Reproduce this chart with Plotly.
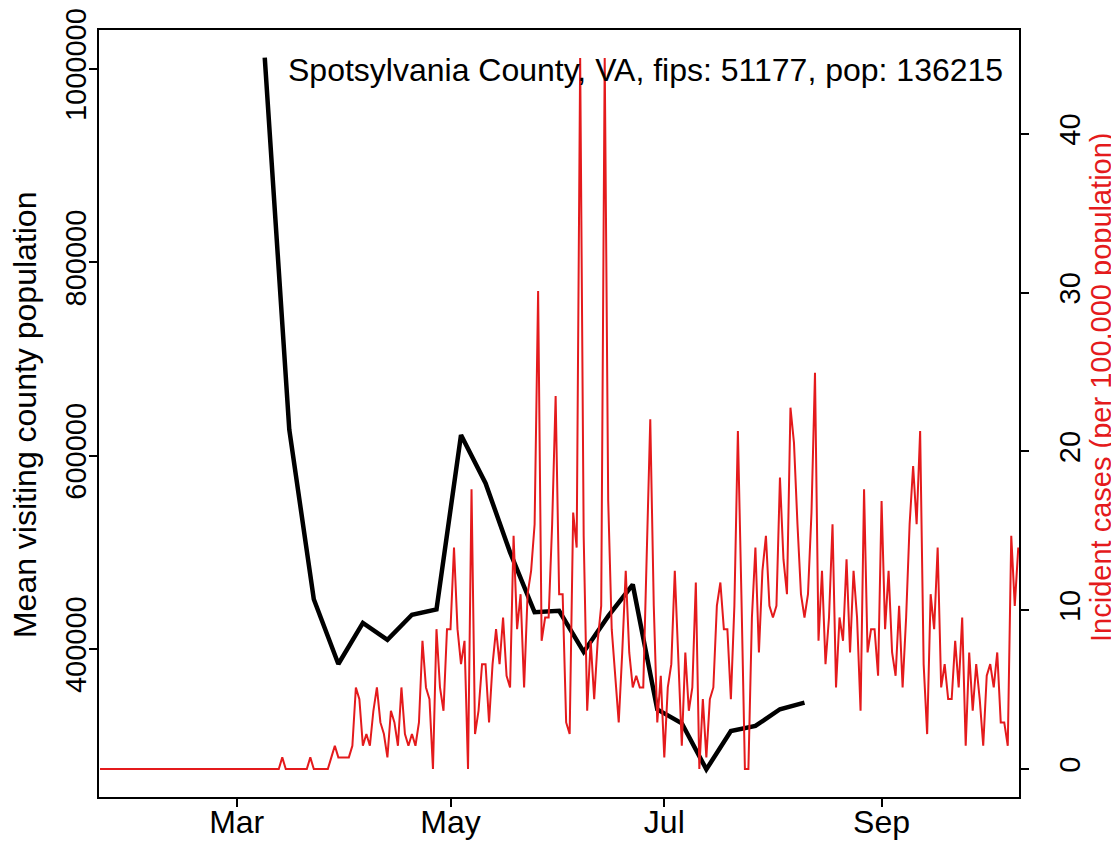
import pandas as pd
import plotly.graph_objects as go

# ---------------- data ----------------
population = 136215
title_text = "Spotsylvania County, VA, fips: 51177, pop: 136215"

# daily incident case counts, starting 2020-01-22
case_start = "2020-01-22"
daily_cases = [
    0, 0, 0, 0, 0, 0, 0, 0, 0, 0,
    0, 0, 0, 0, 0, 0, 0, 0, 0, 0,
    0, 0, 0, 0, 0, 0, 0, 0, 0, 0,
    0, 0, 0, 0, 0, 0, 0, 0, 0, 0,
    0, 0, 0, 0, 0, 0, 0, 0, 0, 0,
    0, 0, 1, 0, 0, 0, 0, 0, 0, 0,
    1, 0, 0, 0, 0, 0, 1, 2, 1, 1,
    1, 1, 2, 7, 6, 2, 3, 2, 5, 7,
    4, 3, 1, 5, 4, 2, 7, 3, 2, 3,
    2, 4, 11, 7, 6, 0, 12, 7, 5, 12,
    12, 19, 12, 9, 11, 0, 24, 3, 5, 9,
    9, 4, 9, 12, 9, 13, 8, 7, 20, 12,
    15, 7, 15, 17, 21, 41, 11, 13, 13, 21,
    32, 15, 15, 4, 3, 22, 19, 61, 20, 5,
    11, 6, 11, 14, 61, 23, 12, 8, 4, 10,
    17, 10, 7, 8, 7, 7, 18, 30, 14, 4,
    8, 1, 7, 9, 17, 10, 2, 10, 5, 7,
    16, 0, 6, 1, 6, 7, 14, 16, 12, 12,
    6, 14, 29, 15, 0, 0, 13, 19, 10, 17,
    20, 14, 13, 14, 25, 18, 15, 31, 28, 21,
    15, 13, 15, 22, 34, 11, 17, 9, 13, 21,
    7, 13, 11, 18, 10, 17, 13, 5, 24, 10,
    12, 12, 8, 23, 12, 17, 10, 8, 14, 7,
    13, 21, 26, 21, 29, 9, 3, 15, 12, 19,
    7, 9, 6, 6, 11, 7, 13, 2, 10, 5,
    9, 6, 2, 8, 9, 7, 10, 4, 4, 2,
    20, 14, 19,
]

# weekly mean visiting county population, starting 2020-03-09
visit_start = "2020-03-09"
visit_pop = [
    1011700, 627000, 451500, 384500, 427000, 409500, 435400, 440900,
    621400, 571600, 500000, 438000, 439500, 397000, 434000, 466700,
    337600, 323200, 275500, 315200, 320400, 337700, 344500,
]

month_ticks = ["2020-03-01", "2020-05-01", "2020-07-01", "2020-09-01"]
month_labels = ["Mar", "May", "Jul", "Sep"]
left_ticks = [400000, 600000, 800000, 1000000]
right_ticks = [0, 10, 20, 30, 40]

# ---------------- derived ----------------
case_dates = pd.date_range(case_start, periods=len(daily_cases), freq="D")
case_rate = [c * 100000 / population for c in daily_cases]
visit_dates = pd.date_range(visit_start, periods=len(visit_pop), freq="7D")

FONT = "Liberation Sans, Arial, Helvetica, sans-serif"
RED = "#E41A1C"
FS = 32
TFS = 29

fig = go.Figure()
fig.add_trace(go.Scatter(
    x=visit_dates, y=visit_pop, mode="lines",
    line=dict(color="black", width=4.5), yaxis="y", showlegend=False,
))
fig.add_trace(go.Scatter(
    x=case_dates, y=case_rate, mode="lines",
    line=dict(color=RED, width=2), yaxis="y2", showlegend=False,
))

axis_common = dict(
    ticks="outside", ticklen=8, tickwidth=2, tickcolor="black",
    showline=True, linecolor="black", linewidth=2,
    showgrid=False, zeroline=False, automargin=False,
    ticklabeloverflow="allow",
)

# the page body adds an 8px margin, so the figure is 8px smaller
fig.update_layout(
    width=1111, height=838,
    margin=dict(l=91, r=100, t=22, b=49, autoexpand=False),
    paper_bgcolor="white", plot_bgcolor="white",
    font=dict(family=FONT, size=FS, color="black"),
    xaxis=dict(
        type="date",
        range=["2020-01-21 17:00", "2020-10-10 05:00"],
        tickvals=month_ticks, ticktext=month_labels,
        mirror=True, ticklabelstandoff=-12,
        tickfont=dict(size=FS),
        **axis_common,
    ),
    yaxis=dict(
        range=[246922, 1040343],
        tickvals=left_ticks, ticktext=[str(v) for v in left_ticks],
        tickangle=-90, mirror=True, ticklabelstandoff=-9,
        tickfont=dict(size=TFS),
        **axis_common,
    ),
    yaxis2=dict(
        overlaying="y", side="right",
        range=[-1.76, 46.54],
        tickvals=right_ticks, ticktext=[str(v) for v in right_ticks],
        tickangle=-90, ticklabelstandoff=16,
        tickfont=dict(size=TFS),
        **axis_common,
    ),
    annotations=[
        dict(text=title_text, xref="paper", yref="paper",
             x=0.9848, y=0.9478, xanchor="right", yanchor="middle",
             showarrow=False, font=dict(size=FS, color="black")),
        dict(text="Mean visiting county population", xref="paper", yref="paper",
             x=-0.0804, y=0.498, xanchor="center", yanchor="middle",
             textangle=-90, showarrow=False, font=dict(size=FS, color="black")),
        dict(text="Incident cases (per 100,000 population)", xref="paper", yref="paper",
             x=1.0891, y=0.5346, xanchor="center", yanchor="middle",
             textangle=-90, showarrow=False, font=dict(size=29, color=RED)),
    ],
)

fig.write_html("out.html")
